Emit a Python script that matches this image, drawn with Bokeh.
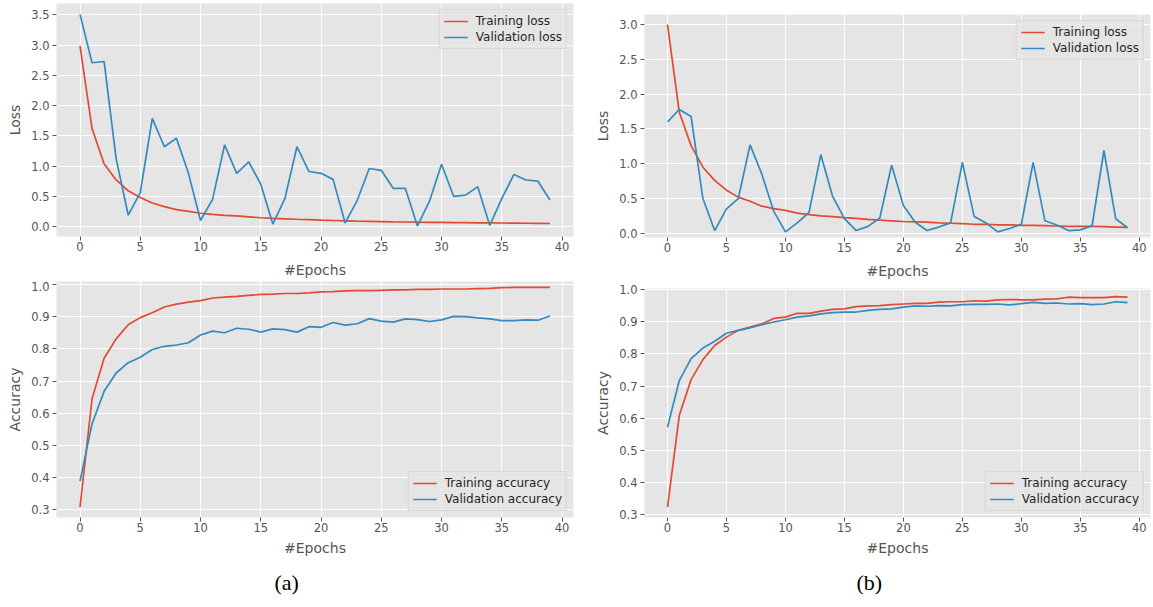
from bokeh.plotting import figure
from bokeh.layouts import row, column
from bokeh.models import FixedTicker, NumeralTickFormatter, Range1d, Legend, LegendItem, Title
from bokeh.embed import file_html
from bokeh.resources import INLINE

epochs = list(range(40))

train_loss_a = [2.99, 1.62, 1.04, 0.77, 0.59, 0.48, 0.39, 0.33, 0.28, 0.25,
                0.22, 0.20, 0.185, 0.175, 0.16, 0.145, 0.135, 0.128, 0.12, 0.113,
                0.105, 0.10, 0.095, 0.09, 0.086, 0.082, 0.078, 0.075, 0.072, 0.07,
                0.068, 0.066, 0.064, 0.062, 0.06, 0.058, 0.056, 0.054, 0.052, 0.05]
val_loss_a = [3.51, 2.71, 2.73, 1.12, 0.19, 0.56, 1.79, 1.32, 1.46, 0.88,
              0.10, 0.45, 1.35, 0.88, 1.07, 0.70, 0.04, 0.46, 1.32, 0.91,
              0.88, 0.78, 0.06, 0.43, 0.96, 0.93, 0.63, 0.63, 0.01, 0.42,
              1.03, 0.50, 0.52, 0.66, 0.02, 0.46, 0.86, 0.77, 0.75, 0.44]
train_acc_a = [0.308, 0.645, 0.771, 0.831, 0.875, 0.897, 0.912, 0.930, 0.939, 0.945,
               0.950, 0.958, 0.961, 0.963, 0.966, 0.969, 0.970, 0.972, 0.972, 0.974,
               0.977, 0.978, 0.980, 0.981, 0.981, 0.982, 0.983, 0.983, 0.985, 0.985,
               0.986, 0.986, 0.986, 0.987, 0.988, 0.990, 0.991, 0.991, 0.991, 0.991]
val_acc_a = [0.389, 0.567, 0.668, 0.725, 0.757, 0.774, 0.798, 0.808, 0.812, 0.819,
             0.843, 0.855, 0.850, 0.864, 0.861, 0.852, 0.862, 0.860, 0.852, 0.869,
             0.867, 0.882, 0.874, 0.878, 0.894, 0.886, 0.883, 0.893, 0.891, 0.885,
             0.890, 0.901, 0.900, 0.896, 0.893, 0.888, 0.888, 0.890, 0.889, 0.902]

train_loss_b = [3.0, 1.74, 1.26, 0.95, 0.76, 0.62, 0.52, 0.46, 0.39, 0.355,
                0.33, 0.29, 0.27, 0.25, 0.24, 0.225, 0.215, 0.20, 0.19, 0.18,
                0.17, 0.165, 0.16, 0.15, 0.145, 0.14, 0.13, 0.13, 0.12, 0.12,
                0.115, 0.115, 0.11, 0.105, 0.10, 0.10, 0.10, 0.095, 0.09, 0.085]
val_loss_b = [1.60, 1.78, 1.68, 0.50, 0.04, 0.35, 0.50, 1.27, 0.85, 0.32,
              0.02, 0.15, 0.30, 1.13, 0.53, 0.21, 0.04, 0.10, 0.22, 0.98,
              0.40, 0.16, 0.04, 0.09, 0.15, 1.02, 0.24, 0.15, 0.02, 0.07,
              0.13, 1.02, 0.18, 0.12, 0.04, 0.05, 0.11, 1.19, 0.21, 0.08]
train_acc_b = [0.324, 0.609, 0.720, 0.782, 0.826, 0.852, 0.873, 0.883, 0.893, 0.910,
               0.914, 0.926, 0.926, 0.933, 0.938, 0.940, 0.947, 0.949, 0.950, 0.953,
               0.955, 0.957, 0.957, 0.961, 0.962, 0.962, 0.965, 0.964, 0.968, 0.969,
               0.968, 0.968, 0.970, 0.971, 0.976, 0.975, 0.975, 0.975, 0.978, 0.976]
val_acc_b = [0.572, 0.717, 0.785, 0.818, 0.839, 0.864, 0.873, 0.881, 0.891, 0.899,
             0.906, 0.914, 0.918, 0.924, 0.928, 0.930, 0.930, 0.935, 0.938, 0.940,
             0.945, 0.949, 0.948, 0.950, 0.949, 0.953, 0.954, 0.954, 0.955, 0.952,
             0.956, 0.960, 0.957, 0.958, 0.955, 0.956, 0.953, 0.955, 0.962, 0.959]

x_ticks = [0, 5, 10, 15, 20, 25, 30, 35, 40]
loss_ticks_a = [0.0, 0.5, 1.0, 1.5, 2.0, 2.5, 3.0, 3.5]
loss_ticks_b = [0.0, 0.5, 1.0, 1.5, 2.0, 2.5, 3.0]
acc_ticks = [0.3, 0.4, 0.5, 0.6, 0.7, 0.8, 0.9, 1.0]

RED = "#E24A33"
BLUE = "#348ABD"
GRAY = "#555555"
FONT = "DejaVu Sans"


def make(width, height, bl, br, bt, bb, yr, yticks, ylabel, s1, s2, names, loc,
         caption=None, cap_offset=0, xlab_standoff=8):
    p = figure(width=width, height=height, x_range=Range1d(-1.95, 40.95), y_range=Range1d(*yr),
               output_backend="svg", toolbar_location=None,
               min_border_left=bl, min_border_right=br, min_border_top=bt, min_border_bottom=bb)
    p.background_fill_color = "#E5E5E5"
    p.border_fill_color = "white"
    p.outline_line_color = None
    p.xaxis.ticker = FixedTicker(ticks=x_ticks)
    p.yaxis.ticker = FixedTicker(ticks=yticks)
    p.yaxis.formatter = NumeralTickFormatter(format="0.0")
    p.xaxis.axis_label = "#Epochs"
    p.yaxis.axis_label = ylabel
    for ax in (p.xaxis[0], p.yaxis[0]):
        ax.axis_line_color = None
        ax.major_tick_line_color = GRAY
        ax.major_tick_out = 4
        ax.major_tick_in = 0
        ax.minor_tick_line_color = None
        ax.major_label_text_color = GRAY
        ax.major_label_text_font = FONT
        ax.major_label_text_font_size = "11.5px"
        ax.axis_label_text_font = FONT
        ax.axis_label_text_font_size = "14px"
        ax.axis_label_text_font_style = "normal"
        ax.axis_label_text_color = GRAY
    p.xaxis.major_label_standoff = 1
    p.yaxis.major_label_standoff = 3
    p.xaxis.axis_label_standoff = xlab_standoff
    p.yaxis.axis_label_standoff = 5
    p.grid.grid_line_color = "white"
    p.grid.grid_line_width = 1
    r1 = p.line(epochs, s1, line_color=RED, line_width=1.7)
    r2 = p.line(epochs, s2, line_color=BLUE, line_width=1.7)
    leg = Legend(items=[LegendItem(label=names[0], renderers=[r1]),
                        LegendItem(label=names[1], renderers=[r2])],
                 location=loc, margin=6, padding=4, spacing=2,
                 glyph_width=24, glyph_height=14, label_standoff=8, label_height=14,
                 label_text_font=FONT, label_text_font_size="12px", label_text_color="#262626",
                 background_fill_color="#E5E5E5", background_fill_alpha=0.8,
                 border_line_color="#CCCCCC", border_line_width=1)
    p.add_layout(leg)
    if caption:
        p.add_layout(Title(text=caption, align="left", offset=cap_offset,
                           text_font="Liberation Serif", text_font_size="22px",
                           text_font_style="normal", text_color="black", standoff=19), "below")
    return p


W1 = 590
W2 = 563

tl = make(W1, 281, 56, 17, 3, 45, (-0.165, 3.69), loss_ticks_a, "Loss",
          train_loss_a, val_loss_a, ["Training loss", "Validation loss"], "top_right")
bl = make(W1, 326, 56, 17, 0, 90, (0.276, 1.0093), acc_ticks, "Accuracy",
          train_acc_a, val_acc_a, ["Training accuracy", "Validation accuracy"], "bottom_right",
          caption="(a)", cap_offset=218, xlab_standoff=5)
tr = make(W2, 281, 54, 3, 14, 44, (-0.06, 3.144), loss_ticks_b, "Loss",
          train_loss_b, val_loss_b, ["Training loss", "Validation loss"], "top_right")
br = make(W2, 326, 54, 3, 7, 90, (0.2916, 1.0031), acc_ticks, "Accuracy",
          train_acc_b, val_acc_b, ["Training accuracy", "Validation accuracy"], "bottom_right",
          caption="(b)", cap_offset=212, xlab_standoff=5)

col_a = column(tl, bl, spacing=0)
col_b = column(tr, br, spacing=0)
layout = row(col_a, col_b, spacing=0)

with open("out.html", "w") as f:
    f.write(file_html(layout, INLINE))
